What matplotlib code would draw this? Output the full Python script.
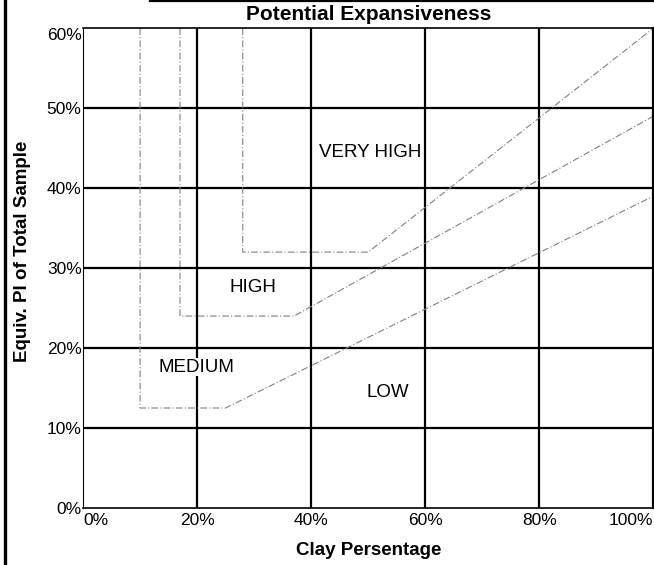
import matplotlib.pyplot as plt
from matplotlib.lines import Line2D

plt.rcParams["font.family"] = ["Liberation Sans", "DejaVu Sans"]

# ------------------------------------------------------------
# data
# ------------------------------------------------------------
x_ticks = [0, 20, 40, 60, 80, 100]
y_ticks = [0, 10, 20, 30, 40, 50, 60]

# zone boundaries: clay % vs equiv. PI %
very_high_x = [28, 28, 50, 100]
very_high_y = [60, 32, 32, 60]
high_x = [17, 17, 37, 100]
high_y = [60, 24, 24, 49]
medium_x = [10, 10, 25, 100]
medium_y = [60, 12.5, 12.5, 39]

zone_names = ["VERY HIGH", "HIGH", "MEDIUM", "LOW"]
zone_x = [50.3, 29.8, 19.8, 53.5]
zone_y = [44.5, 27.6, 17.6, 14.5]

# ------------------------------------------------------------
fig = plt.figure(figsize=(6.54, 5.65), dpi=100)
ax = fig.add_axes([0.127, 0.101, 0.872, 0.849])

for v in y_ticks[1:-1]:
    ax.axhline(v, color="black", lw=1.6, zorder=1)
for v in x_ticks[1:-1]:
    ax.axvline(v, color="black", lw=1.6, zorder=1)

for xs, ys in [(very_high_x, very_high_y), (high_x, high_y), (medium_x, medium_y)]:
    ax.plot(xs, ys, color="#808080", lw=0.8, ls=(0, (6, 2, 1, 2)), zorder=2)

for name, x, y in zip(zone_names, zone_x, zone_y):
    ax.text(x, y, name, ha="center", va="center", fontsize=13.5,
            bbox=dict(facecolor="white", edgecolor="none", pad=0.5), zorder=3)

ax.set_xlim(0, 100)
ax.set_ylim(0, 60)
ax.set_xticks(x_ticks)
ax.set_xticklabels([f"{t}%" for t in x_ticks], fontsize=12.5)
ax.set_yticks(y_ticks)
ax.set_yticklabels([f"{t}%" for t in y_ticks], fontsize=12.5)
ax.tick_params(length=0)
ax.tick_params(axis="x", pad=4)
ax.tick_params(axis="y", pad=1)
xl = ax.get_xticklabels()
xl[0].set_ha("left")
xl[-1].set_ha("right")
ax.get_yticklabels()[-1].set_va("top")

ax.spines["left"].set_linewidth(0.8)
ax.spines["bottom"].set_linewidth(1.2)
ax.spines["top"].set_linewidth(1.2)
ax.spines["right"].set_linewidth(1.6)

ax.set_title("Potential Expansiveness", fontsize=15, fontweight="bold", pad=6)
ax.set_xlabel("Clay Persentage", fontsize=13.5, fontweight="bold", labelpad=10)
fig.text(0.034, 0.555, "Equiv. PI of Total Sample", rotation=90, ha="center",
         va="center", fontsize=13.5, fontweight="bold")

# scanned page frame
fig.add_artist(Line2D([0.008, 0.008], [0, 1], color="black", lw=2.4))
fig.add_artist(Line2D([0.23, 1], [0.998, 0.998], color="black", lw=1.6))

plt.savefig("out.png", dpi=100)
